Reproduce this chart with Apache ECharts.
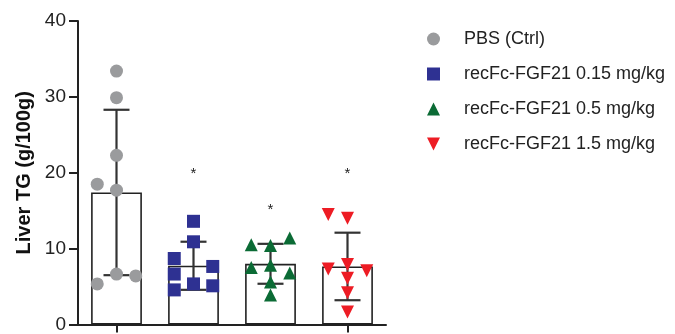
<!DOCTYPE html>
<html>
<head>
<meta charset="utf-8">
<script src="https://cdn.jsdelivr.net/npm/echarts@6/dist/echarts.min.js"></script>
<style>html,body{margin:0;padding:0;background:#fff;}#c{width:675px;height:334px;}</style>
</head>
<body>
<div id="c"></div>
<script>
// ---- data ----
var groups = ['PBS (Ctrl)', 'recFc-FGF21 0.15 mg/kg', 'recFc-FGF21 0.5 mg/kg', 'recFc-FGF21 1.5 mg/kg'];
var yTicks = [0, 10, 20, 30, 40];
var means = [17.4, 7.74, 8.0, 7.65];
var sds = [10.9, 3.17, 2.63, 4.45];
var sigMarks = ['', '*', '*', '*'];
var sigY = [null, 20.2, 15.5, 20.2];
// individual points: [jitter column (-1 left, 0 centre, 1 right), value]
var ptsPBS = [[0,33.4],[0,29.9],[0,22.3],[-1,18.5],[0,17.7],[0,6.65],[1,6.4],[-1,5.35]];
var pts015 = [[0,13.6],[0,10.9],[-1,8.7],[-1,6.65],[-1,4.56],[1,7.65],[1,5.1],[0,5.35]];
var pts05  = [[-1,10.5],[1,11.4],[0,10.4],[-1,7.5],[0,7.8],[1,6.8],[0,5.6],[0,3.9]];
var pts15  = [[-1,14.5],[0,14.0],[-1,7.3],[0,7.9],[1,7.1],[0,6.1],[0,4.2],[0,1.65]];

var allPts = [ptsPBS, pts015, pts05, pts15];
var colors = ['#9a9b9d', '#2e3192', '#0b6b35', '#ed1c24'];
var symbols = ['circle', 'rect', 'triangle', 'path://M0,0 L10,0 L5,10 Z'];
var JIT = 0.25;
var FONT = '"Liberation Sans", Arial, sans-serif';

var chart = echarts.init(document.getElementById('c'), null, {renderer: 'canvas'});

var series = [];
series.push({
  name: 'mean', type: 'bar', xAxisIndex: 0, yAxisIndex: 0,
  data: means, barWidth: '66%',
  itemStyle: {color: '#fff', borderColor: '#222', borderWidth: 1.6},
  silent: true, z: 1
});
series.push({
  name: 'sd', type: 'custom', xAxisIndex: 0, yAxisIndex: 0,
  data: means.map(function (m, i) { return [i, m - sds[i], m + sds[i]]; }),
  renderItem: function (params, api) {
    var lo = api.coord([api.value(0), api.value(1)]);
    var hi = api.coord([api.value(0), api.value(2)]);
    var hw = 13;
    var st = {stroke: '#333', lineWidth: 2.2};
    return {type: 'group', children: [
      {type: 'line', shape: {x1: lo[0], y1: lo[1], x2: hi[0], y2: hi[1]}, style: st},
      {type: 'line', shape: {x1: lo[0]-hw, y1: lo[1], x2: lo[0]+hw, y2: lo[1]}, style: st},
      {type: 'line', shape: {x1: hi[0]-hw, y1: hi[1], x2: hi[0]+hw, y2: hi[1]}, style: st}
    ]};
  },
  silent: true, z: 2
});
series.push({
  name: 'sig', type: 'custom', xAxisIndex: 0, yAxisIndex: 0,
  data: sigY.map(function (v, i) { return [i, v]; }),
  renderItem: function (params, api) {
    var i = params.dataIndex;
    if (sigY[i] == null) return null;
    var p = api.coord([i, sigY[i]]);
    return {type: 'text', x: p[0], y: p[1] + 3,
      style: {text: sigMarks[i], fill: '#222', font: '15px ' + FONT, align: 'center', verticalAlign: 'middle'}};
  },
  silent: true, z: 3
});
allPts.forEach(function (pts, g) {
  series.push({
    name: groups[g], type: 'scatter', xAxisIndex: 1, yAxisIndex: 0,
    data: pts.map(function (p) { return [g + 1 + p[0] * JIT, p[1]]; }),
    symbol: symbols[g], symbolSize: 13,
    itemStyle: {color: colors[g], opacity: 1},
    silent: true, z: 5
  });
});

chart.setOption({
  animation: false,
  backgroundColor: '#fff',
  grid: {left: 78, top: 21, width: 308, bottom: 6, containLabel: false},
  xAxis: [{
    type: 'category', data: groups, boundaryGap: true,
    axisLine: {lineStyle: {color: '#222', width: 2}},
    axisTick: {show: true, alignWithLabel: true, length: 8, lineStyle: {color: '#222', width: 2}},
    axisLabel: {show: false}, splitLine: {show: false}
  }, {
    type: 'value', min: 0.5, max: 4.5, show: false
  }],
  yAxis: [{
    type: 'value', min: yTicks[0], max: yTicks[yTicks.length - 1], interval: 10,
    name: 'Liver TG (g/100g)', nameLocation: 'middle', nameGap: 44, nameRotate: 90,
    nameTextStyle: {fontFamily: FONT, fontWeight: 'bold', fontSize: 20, color: '#111'},
    axisLine: {show: true, lineStyle: {color: '#222', width: 2}},
    axisTick: {show: true, length: 9, lineStyle: {color: '#222', width: 2}},
    axisLabel: {fontFamily: FONT, fontSize: 19, color: '#222', margin: 12},
    splitLine: {show: false}
  }],
  legend: {
    orient: 'vertical', left: 422, top: 25,
    itemWidth: 13, itemHeight: 13, itemGap: 17,
    data: groups.map(function (n, g) { return {name: n, icon: symbols[g], itemStyle: {color: colors[g]}}; }),
    textStyle: {fontFamily: FONT, fontSize: 18, color: '#222', padding: [0, 0, 0, 19]},
    selectedMode: false
  },
  series: series
});
</script>
</body>
</html>
